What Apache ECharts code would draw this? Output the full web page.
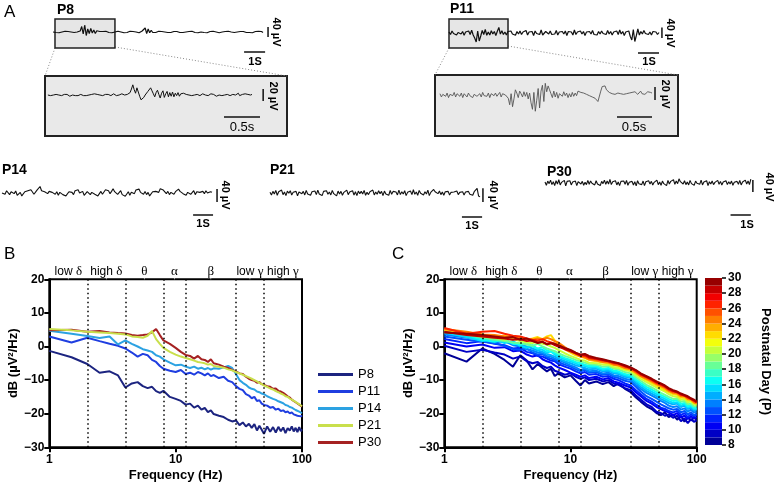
<!DOCTYPE html>
<html><head><meta charset="utf-8">
<script src="https://cdn.jsdelivr.net/npm/echarts/dist/echarts.min.js"></script>
<style>html,body{margin:0;padding:0;background:#fff}#c{width:777px;height:487px}</style>
</head><body><div id="c"></div><script>
// ---------------- DATA ----------------
// Panel A traces (µV), evenly sampled over each trace's duration
const traceP8 = [0,3,-2,2,-3,2,0,-2,3,-2,2,-3,0,2,-2,3,0,-2,
 4,22,-8,28,-14,12,-6,14,-4,8,-6,5,
 -2,2,-3,2,-2,3,0,-2,2,-3,2,0,-2,3,-2,0,2,-3,2,-2,0,3,-2,2,-2,0,3,-3,2,4,
 8,16,-6,12,-3,7,-2,3,
 -2,0,3,-2,2,-3,0,2,-2,3,-2,0,2,-3,2,0,-2,3,-2,2,0,-3,2,-2,3,0,-2,2,-3,2,0,3,-2,2,-3,0,2,-2,3,-2,0,2,-3,3,0,-2,2,-2,3,-3,0,2,-2,3,0,-2,2,-3,2,0,-2,3,-2,2,-3,0,2,-2,3,0,2,-2];
const traceP8Zoom = [0,1,-1,1,0,-1,1,-1,0,2,-1,0,1,-1,1,0,-2,1,0,1,-1,1,-1,0,1,2,-1,0,-1,1,0,-1,1,0,2,-1,1,-1,0,1,-1,0,1,-2,1,0,-1,1,2,0,-1,1,0,-1,2,1,0,-1,1,2,
 4,10,17,9,3,12,5,-2,-8,-6,-4,0,3,6,9,12,7,2,-3,4,8,1,-5,3,7,-4,2,6,-3,4,-2,5,-3,3,-1,4,-2,2,-1,3,0,
 1,-1,0,1,-1,2,0,-1,1,0,-1,1,2,-1,0,1,-1,0,2,-1,1,0,-2,1,0,1,-1,2,0,-1,1,0,-1,2,1,-1,0,1,3,-1,0,1,-1,2,0,1,-1,0,1];
const traceP11 = [4,-6,8,-2,6,-8,2,10,-4,6,-9,4,-2,8,-6,11,-8,-20,-36,8,-32,-12,10,-6,14,-9,4,-8,9,-4,6,-10,7,22,-4,9,-6,4,-8,6,-2,8,-4,2,-9,6,-4,8,-6,4,-2,10,-8,4,-4,6,-10,8,-2,4,-6,12,-8,-14,6,10,-4,8,-6,2,-4,10,-8,4,-2,6,-4,8,-10,6,-2,4,-8,12,-6,4,-2,8,-4,6,-10,4,-2,6,-4,10,-6,2,-8,6,-4,8,-2,4,-6,10,-4,6,-8,4,-2,8,-6,12,-4,6,-10,4,-2,8,-14,-28,14,-34,-10,16,-8,6,-4,10,-2,6,-6,4,-8,6,-2,4,-6,2];
const traceP11Zoom = [2,-3,1,4,-2,3,-4,1,2,-1,4,-3,2,0,-2,3,-4,2,1,-3,3,-1,2,-4,1,3,-2,0,2,-3,4,-1,1,-2,3,-4,2,0,-1,3,-2,1,4,-3,2,-1,0,3,
 -5,-15,2,-18,-6, 8,3,-4,6, 2,-3,5,-2,4,-6,3,
 -12,-22,4,-25,-8,10,-20,6,15,-10,18,5,
 14,8,2,-4,6,-3,4,-5,2,
 3,-2,5,-1,3,-4,2,-3,4,-2,3,-1,
 6,9,4,7,3,5,1,
 2,-1,0,-3,-2,-5,-8,-10,-7,
 6,13,10,14,8,9,
 4,6,2,5,1,4,3,6,2,5,1,4,2,5,3,1,4,2,5,3,1,4,6,2,4,1,3,5,2,4,3];
const traceP14 = [0,5,-4,7,2,-5,4,9,-2,6,-7,-4,2,-9,-5,4,-2,7,4,10,5,-4,2,9,15,20,7,12,4,9,-2,5,10,2,7,-4,4,-7,2,5,-5,0,-9,-4,4,9,2,-5,7,4,10,0,-4,5,-7,-2,4,9,-5,2,7,-4,0,-9,-2,5,-4,2,10,4,7,-2,5,13,4,10,-4,2,7,-5,-2,-10,-4,4,-7,2,5,-2,9,4,12,2,7,-4,5,-5,2,-9,-4,4,10,5,9,2,13,18,9,4,-2,5,-5,2,7,-4,4,9,12,5,10,-2,4,-7,2,5,-4,0,7,-5,4,9,2,-4,5,-2,7,0,-5,4,2];
const traceP21 = [2,-6,5,-3,8,-7,4,-2,9,-5,3,-8,6,-1,7,-6,2,-4,5,-9,3,7,-2,5,-6,8,-3,1,-7,4,-2,6,-5,9,-3,2,-8,5,-1,7,-4,3,-6,8,-2,4,-9,6,-3,5,-7,2,-4,9,-5,3,-1,7,-6,4,-8,6,-2,5,-3,8,-7,2,-5,4,-1,9,-6,3,-4,7,-2,5,-8,6,-3,2,-7,8,-4,5,-1,3,-6,9,-5,4,-3,7,-8,2,-2,6,-5,10,-4,3,-7,8,-1,5,-6,4,-3,9,-8,2,6,11,4,8,-2,6,-5,3,-7,4,-2,5,-6,2,-4,3,-1,6,-5,2,-3,4,-6,3,-2,5,-4,1,-7,4,-2,14,-9,-12];
const traceP30 = [3,-7,6,-2,9,-5,4,-8,7,-3,10,-6,2,-4,8,-9,5,-1,7,-6,3,-2,6,-8,4,9,-3,5,-7,2,-5,8,-4,6,-1,3,-6,7,-3,2,-8,5,-2,9,-4,6,-3,11,-5,4,-2,7,-6,3,-8,5,-1,6,-4,8,-7,2,-3,5,-6,4,-9,7,-2,3,-5,6,-8,4,-1,7,-3,5,-6,2,-4,9,-5,3,-7,6,-2,4,-8,8,-3,5,-1,10,-4,6,-2,13,4,9,-3,7,-5,3,-6,8,-2,4,-7,6,-1,5,-4,9,-6,3,-2,7,-8,4,-3,6,-5,2,-1,8,-4,5,-6,3,-2,7,-5,4,-3,6,-7,2,-1,5,-4,8,-6,3,-2,9,-3,6,-5,12];

// Panel B spectra (dB) at frequencies freqB (Hz)
const freqB = [1,1.5,2,2.5,3,3.5,4,4.5,5,5.5,6,6.5,7,7.5,8,9,10,11,12,13,14,15,16,17,18,19,20,22,24,26,28,30,32,34,36,38,40,42,44,46,48,50,53,56,59,62,65,68,71,74,77,80,83,86,89,92,95,98,100];
const bP8  = [-1.3,-3.2,-5.2,-7.8,-7.4,-8.6,-12.2,-11.0,-10.6,-11.8,-12.4,-12.0,-13.3,-13.8,-13.2,-15.0,-15.6,-16.2,-17.3,-17.0,-18.2,-17.6,-18.8,-18.3,-19.5,-19.0,-20.1,-20.6,-21.0,-21.8,-22.3,-22.0,-23.4,-22.6,-23.8,-23.0,-24.2,-23.1,-25.0,-23.6,-24.8,-26.0,-23.8,-25.4,-24.0,-25.6,-23.9,-25.2,-24.1,-25.8,-24.3,-25.0,-23.8,-25.3,-24.2,-25.5,-24.0,-25.2,-24.6];
const bP11 = [3.0,1.2,2.6,1.6,0.8,0.2,-0.6,-1.8,-3.0,-2.2,-2.6,-4.0,-4.6,-5.8,-6.6,-7.2,-7.6,-7.0,-8.2,-7.8,-8.4,-7.6,-8.0,-8.6,-8.0,-8.8,-8.5,-9.4,-9.0,-10.2,-10.6,-11.8,-12.6,-13.0,-14.2,-14.6,-15.4,-15.0,-16.2,-16.0,-17.0,-17.4,-17.6,-18.2,-18.0,-18.8,-18.5,-19.2,-19.0,-19.6,-19.3,-19.9,-19.6,-20.2,-20.0,-20.6,-20.2,-20.8,-20.5];
const bP14 = [4.7,3.8,3.1,2.5,3.0,0.6,1.8,0.8,0.0,-0.8,-1.2,-1.6,-2.6,-3.0,-3.8,-4.8,-5.6,-5.4,-6.0,-6.4,-6.0,-6.6,-6.3,-6.8,-6.4,-6.9,-6.5,-6.6,-6.2,-5.8,-6.4,-8.2,-10.0,-10.8,-11.4,-12.2,-12.6,-12.8,-13.4,-13.6,-14.0,-14.2,-14.8,-15.2,-15.6,-15.9,-16.3,-16.6,-16.9,-17.4,-17.6,-18.0,-18.2,-18.6,-18.9,-19.2,-19.4,-19.7,-19.8];
const bP21 = [5.2,4.8,4.4,4.2,4.0,3.8,3.6,3.0,2.8,2.6,3.2,4.6,2.2,0.8,-0.4,-1.6,-2.4,-3.0,-3.4,-3.8,-4.2,-4.6,-4.8,-5.0,-5.4,-5.2,-5.8,-6.0,-6.3,-6.8,-7.1,-7.6,-8.0,-8.4,-8.8,-9.2,-9.6,-10.0,-10.4,-10.8,-11.2,-11.6,-12.0,-12.5,-12.8,-13.3,-13.6,-14.0,-14.3,-14.8,-15.0,-15.5,-15.8,-16.2,-16.5,-16.9,-17.2,-17.6,-17.8];
const bP30 = [4.8,5.0,4.4,4.6,4.2,4.0,3.9,3.4,3.2,3.4,3.6,4.2,5.2,3.4,1.8,0.8,-0.4,-1.6,-2.5,-2.8,-3.6,-2.8,-3.8,-4.0,-4.6,-3.8,-5.0,-5.4,-6.0,-6.4,-7.0,-7.4,-8.0,-8.2,-9.0,-9.6,-10.0,-10.2,-10.8,-10.6,-11.2,-11.4,-11.8,-12.0,-12.6,-12.5,-13.2,-13.4,-13.8,-14.3,-14.8,-15.2,-15.8,-16.2,-16.6,-17.0,-17.3,-17.6,-17.9];
const bNames = ['P8','P11','P14','P21','P30'];

// Panel C spectra (dB) per postnatal day at frequencies freqC (Hz)
const freqC = [1,1.5,2,2.5,3,3.5,4,4.5,5,5.5,6,6.5,7,7.5,8,9,10,11,12,13,14,16,18,20,22,24,27,30,33,36,40,44,48,52,56,60,65,70,75,80,85,90,95,100];
const cDays = [8,9,10,11,12,13,14,15,16,18,20,22,24,26,28,30];
const c08 = [-2.0,-4.5,-0.6,-2.2,-4.0,-6.0,-2.6,-4.2,-6.8,-5.2,-6.4,-7.4,-6.6,-8.8,-8.0, -9.2,-8.6,-10.2,-11.6,-10.0,-11.0, -10.4,-11.2,-10.6,-11.8,-11.0, -12.6,-13.6,-15.2,-16.4, -17.8,-18.6,-19.8,-20.4,-19.6,-21.0, -20.2,-21.8,-20.6,-22.4,-21.0,-22.0,-21.2,-21.8];
const c09 = [0.2,-1.6,-1.0,-1.8,-2.4,-3.6,-3.0,-4.4,-5.0,-4.6,-5.8,-6.4,-6.0,-7.2,-7.6, -8.4,-8.0,-9.0,-9.6,-9.2,-10.0, -9.6,-10.4,-10.0,-11.0,-11.4, -12.4,-13.0,-14.6,-15.8, -17.2,-18.0,-19.4,-19.8,-20.6,-20.2, -21.2,-20.6,-22.2,-21.4,-22.8,-21.6,-22.4,-22.0];
const c10 = [1.2,0.0,0.6,-0.4,-0.2,-1.4,-1.2,-2.4,-3.0,-2.6,-3.8,-4.4,-4.8,-5.6,-6.2, -7.0,-7.8,-8.4,-9.0,-8.6,-9.4, -9.0,-9.8,-9.4,-10.4,-10.8, -11.6,-12.2,-13.6,-14.8, -16.2,-17.0,-18.0,-18.6,-19.2,-19.6, -20.4,-19.8,-21.2,-20.6,-21.6,-20.8,-21.4,-21.0];
const c11 = [2.2,1.0,1.6,0.8,0.4,-0.6,-0.4,-1.6,-2.0,-2.8,-3.0,-3.6,-4.2,-4.4,-5.2, -6.0,-6.6,-7.4,-8.0,-7.6,-8.4, -8.2,-9.0,-8.8,-9.6,-10.0, -11.0,-11.6,-13.0,-14.2, -15.6,-16.4,-17.4,-18.2,-18.6,-19.2, -19.6,-19.2,-20.4,-19.8,-21.0,-20.2,-20.8,-20.4];
const c12 = [3.0,2.0,1.4,1.0,0.2,-0.8,-1.0,-0.6,-1.8,-2.4,-2.2,-3.2,-3.6,-4.0,-4.6, -5.4,-6.0,-6.8,-7.4,-7.0,-7.8, -7.6,-8.4,-8.2,-9.0,-9.4, -10.2,-10.6,-12.0,-13.4, -14.8,-15.6,-16.4,-17.2,-17.8,-18.4, -18.8,-18.6,-19.6,-19.2,-20.2,-19.6,-20.4,-20.0];
const c13 = [3.6,2.6,2.0,1.2,1.6,0.4,0.0,-0.8,-1.2,-1.8,-2.0,-2.8,-3.0,-3.6,-4.0, -4.8,-5.6,-6.2,-7.0,-6.6,-7.4, -7.2,-8.0,-7.8,-8.6,-8.8, -9.6,-10.0,-11.4,-12.6, -13.8,-14.6,-15.4,-16.2,-16.8,-17.6, -18.0,-17.8,-18.8,-18.4,-19.4,-18.8,-19.6,-19.4];
const c14 = [4.0,3.0,2.4,2.0,1.4,1.0,0.6,0.0,-0.6,-1.2,-1.6,-2.2,-2.6,-3.0,-3.6, -4.4,-5.0,-5.6,-6.0,-6.4,-6.8, -6.6,-7.4,-7.2,-8.0,-8.2, -9.0,-9.4,-10.8,-12.0, -13.2,-14.0,-14.8,-15.6,-16.2,-16.8, -17.2,-17.0,-18.0,-17.6,-18.6,-18.2,-19.0,-18.8];
const c15 = [4.2,2.8,1.6,2.2,1.0,1.6,0.2,-0.4,0.4,-0.8,-1.0,-1.8,-1.4,-2.4,-3.0, -3.8,-4.4,-5.0,-5.6,-5.8,-6.2, -6.2,-7.0,-6.8,-7.6,-7.8, -8.6,-9.0,-10.2,-11.4, -12.6,-13.4,-14.2,-15.0,-15.6,-16.2, -16.8,-16.6,-17.6,-17.2,-18.2,-17.8,-18.6,-18.6];
const c16 = [4.5,3.4,2.0,1.4,2.2,0.8,0.6,1.2,0.0,-0.6,-0.2,-1.2,-1.6,-2.0,-2.6, -3.4,-4.0,-4.6,-5.0,-5.4,-5.8, -5.8,-6.6,-6.4,-7.2,-7.4, -8.2,-8.6,-9.8,-10.8, -12.0,-12.8,-13.6,-14.4,-15.0,-15.6, -16.2,-16.0,-17.0,-16.8,-17.8,-17.4,-18.2,-18.2];
const c18 = [4.8,3.6,2.6,2.0,1.6,1.2,1.0,0.6,0.2,0.8,0.0,-0.6,-1.0,-1.4,-2.0, -2.8,-3.4,-4.0,-4.4,-4.8,-5.2, -5.4,-6.0,-5.8,-6.6,-6.8, -7.6,-8.0,-9.2,-10.2, -11.4,-12.2,-13.0,-13.8,-14.4,-15.0, -15.6,-15.6,-16.4,-16.2,-17.2,-17.0,-17.8,-17.8];
const c20 = [5.0,4.0,3.0,2.6,2.0,2.2,1.6,1.2,1.0,1.4,0.8,0.6,0.0,-0.4,-1.0, -2.0,-2.8,-3.4,-4.0,-4.2,-4.8, -5.0,-5.4,-5.4,-6.2,-6.4, -7.0,-7.4,-8.6,-9.6, -10.6,-11.4,-12.2,-12.8,-13.4,-14.2, -14.8,-15.0,-15.8,-15.6,-16.6,-16.4,-17.2,-17.4];
const c22 = [5.0,4.2,3.6,3.0,3.2,2.6,2.4,2.0,2.4,2.8,2.2,3.0,3.4,1.8,0.6, -0.8,-1.8,-2.6,-3.0,-3.4,-4.0, -4.4,-4.8,-5.0,-5.6,-5.8, -6.6,-7.0,-8.0,-9.0, -10.0,-10.8,-11.6,-12.2,-13.0,-13.6, -14.2,-14.4,-15.2,-15.2,-16.0,-16.0,-16.8,-17.0];
const c24 = [5.2,4.4,3.6,3.4,3.0,2.8,2.6,2.2,2.0,2.4,2.0,2.6,2.2,1.6,1.2, -0.2,-1.4,-2.2,-3.0,-3.2,-3.8, -4.2,-4.6,-4.8,-5.4,-5.6, -6.4,-6.8,-7.8,-8.8, -9.6,-10.4,-11.2,-11.8,-12.4,-13.2, -13.8,-14.0,-14.8,-14.8,-15.6,-15.8,-16.6,-17.0];
const c26 = [5.5,3.8,4.4,4.6,3.8,3.2,3.0,2.4,2.0,1.8,2.2,1.6,1.2,0.8,0.4, -0.6,-1.2,-2.0,-2.6,-2.8,-3.4, -3.8,-4.2,-4.4,-5.0,-5.2, -6.0,-6.4,-7.4,-8.4, -9.2,-10.0,-10.8,-11.4,-12.0,-12.8, -13.4,-13.6,-14.4,-14.6,-15.2,-15.6,-16.2,-16.6];
const c28 = [4.4,3.4,3.0,2.6,2.4,2.0,2.2,1.6,1.8,1.2,1.4,0.8,1.0,0.4,0.0, -0.8,-1.4,-2.0,-2.6,-2.4,-3.2, -3.6,-4.0,-4.4,-4.8,-5.0, -5.8,-6.4,-7.2,-8.2, -9.0,-9.8,-10.6,-11.2,-11.8,-12.6, -13.2,-13.6,-14.2,-14.6,-15.0,-15.6,-16.0,-16.6];
const c30 = [4.2,3.8,3.4,3.0,2.6,2.8,2.0,2.4,1.6,1.0,1.4,0.6,1.0,0.8,0.4, -0.4,-1.0,-1.8,-2.4,-2.2,-2.8, -3.4,-3.8,-4.2,-4.6,-5.0, -5.6,-6.2,-7.0,-8.0, -8.8,-9.6,-10.4,-11.0,-11.6,-12.4, -13.0,-13.4,-14.0,-14.4,-14.8,-15.4,-15.8,-16.4];
const cVals = [c08,c09,c10,c11,c12,c13,c14,c15,c16,c18,c20,c22,c24,c26,c28,c30];

// Frequency bands
const bandEdges = [1,2,4,8,12,30,50,100];
const bandNames = ['low δ','high δ','θ','α','β','low γ','high γ'];
const minorTicks = [2,3,4,5,6,7,8,9,20,30,40,50,60,70,80,90];
const dayMin = 8, dayMax = 30;

// ---------------- STYLE / LAYOUT ----------------
const FF = "'Liberation Sans', Arial, sans-serif";
const SERIF = "'Liberation Serif', 'DejaVu Serif', serif";
const bColors = ['#1c2480','#1f3ee0','#2ca2e2','#c9df4c','#a52222'];
function jet(t){
  const c = x => Math.round(255*Math.max(0,Math.min(1,x)));
  return 'rgb(' + c(Math.min(4*t-1.5,-4*t+4.5)) + ',' + c(Math.min(4*t-0.5,-4*t+3.5)) + ',' + c(Math.min(4*t+0.5,-4*t+2.5)) + ')';
}
const nPieces = dayMax - dayMin;
function dayColor(d){ const i = Math.min(nPieces-1, d - dayMin); return jet((i+0.5)/nPieces); }

const grids = [], xAxes = [], yAxes = [], series = [];
function addGrid(g){ grids.push(g); return grids.length-1; }

// trace panels
const PX_S = 21;
const traces = [
  {vals:traceP8, grid:{left:53,top:12,width:240,height:40}, xr:[0,240/PX_S], yr:[-80,80], t:[0,10], hbar:[9.1,10.1,-80], vbar:[10.24,20,-20], box:[0.095,2.95,52,-64], color:'#111', w:1.2},
  {vals:traceP8Zoom, grid:{left:45,top:76,width:242,height:60,show:true,backgroundColor:'#e9e9e9',borderColor:'#222',borderWidth:2}, xr:[0,242/72], yr:[-68.3,31.7], t:[0.04,2.875], hbar:[2.486,2.986,-36.7], vbar:[3.03,10,-10], color:'#111', w:1},
  {vals:traceP11, grid:{left:449,top:13,width:240,height:40}, xr:[0,240/PX_S], yr:[-80,80], t:[0,10], hbar:[9.0,10.0,-80], vbar:[10.14,22,-20], box:[0,2.81,56,-60], color:'#111', w:1.2},
  {vals:traceP11Zoom, grid:{left:435,top:75,width:243,height:61,show:true,backgroundColor:'#e9e9e9',borderColor:'#222',borderWidth:2}, xr:[0,243/70], yr:[-63.1,30.8], t:[0.071,3.1], hbar:[2.6,3.1,-33.9], vbar:[3.143,12.3,-7.7], color:'#555', w:0.9},
  {vals:traceP14, grid:{left:2,top:173,width:240,height:44}, xr:[0,240/PX_S], yr:[-73.9,61.6], t:[0,10], hbar:[9.1,10.05,-67.8], vbar:[10.24,12,-28], color:'#111', w:1.1},
  {vals:traceP21, grid:{left:270,top:173,width:240,height:44}, xr:[0,240/PX_S], yr:[-73.9,61.6], t:[0,10], hbar:[9.14,10.1,-73.9], vbar:[10.14,15,-28], color:'#111', w:1.1},
  {vals:traceP30, grid:{left:545,top:163,width:240,height:56}, xr:[0,240/PX_S], yr:[-110.9,61.6], t:[0,10.14], hbar:[9.14,10.14,-98.6], vbar:[10.24,9,-28], color:'#111', w:1.1}
];
traces.forEach(tr => {
  const gi = addGrid(tr.grid);
  xAxes.push({type:'value', gridIndex:gi, min:tr.xr[0], max:tr.xr[1], show:false});
  yAxes.push({type:'value', gridIndex:gi, min:tr.yr[0], max:tr.yr[1], show:false});
  const n = tr.vals.length;
  const base = {type:'line', xAxisIndex:gi, yAxisIndex:gi, showSymbol:false, symbol:'none', clip:false, silent:true, animation:false};
  const hb = Object.assign({}, base, {z:2, data:[[tr.hbar[0],tr.hbar[2]],[tr.hbar[1],tr.hbar[2]]], lineStyle:{color:'#111',width:1.5}});
  if (tr.box) hb.markArea = {silent:true, itemStyle:{color:'#e6e6e6', borderColor:'#222', borderWidth:1.5}, data:[[{coord:[tr.box[0],tr.box[2]]},{coord:[tr.box[1],tr.box[3]]}]]};
  series.push(hb);
  series.push(Object.assign({}, base, {z:2, data:[[tr.vbar[0],tr.vbar[1]],[tr.vbar[0],tr.vbar[2]]], lineStyle:{color:'#111',width:1.5}}));
  series.push(Object.assign({}, base, {z:5, data:tr.vals.map((v,i)=>[tr.t[0]+(tr.t[1]-tr.t[0])*i/(n-1), v]), lineStyle:{color:tr.color,width:tr.w}}));
});

// spectral panels
const minus = v => v < 0 ? '\u2212' + (-v) : String(v);
function specAxes(gi){
  xAxes.push({type:'log', logBase:10, gridIndex:gi, min:1, max:100,
    axisLine:{onZero:false, lineStyle:{color:'#000',width:2}}, axisTick:{length:5,lineStyle:{color:'#000',width:2}},
    axisLabel:{color:'#000',fontWeight:'bold',fontSize:12,fontFamily:FF,margin:6}, splitLine:{show:false},
    name:'Frequency (Hz)', nameLocation:'middle', nameGap:22, nameTextStyle:{color:'#000',fontWeight:'bold',fontSize:13,fontFamily:FF}});
  yAxes.push({type:'value', gridIndex:gi, min:-30, max:20, interval:10,
    axisLine:{show:true, onZero:false, lineStyle:{color:'#000',width:2}}, axisTick:{show:true,length:5,lineStyle:{color:'#000',width:2}},
    axisLabel:{color:'#000',fontWeight:'bold',fontSize:12,fontFamily:FF,formatter:minus,margin:5}, splitLine:{show:false},
    name:'dB (\u00b5V\u00b2/Hz)', nameLocation:'middle', nameGap:28, nameTextStyle:{color:'#000',fontWeight:'bold',fontSize:13,fontFamily:FF}});
}
function bandSeries(gi){
  const idx = xAxes.length-1;
  series.push({type:'line', xAxisIndex:idx, yAxisIndex:idx, data:[[1,-30]], symbol:'none', lineStyle:{opacity:0}, silent:true, clip:false, z:1,
    markLine:{silent:true, symbol:['none','none'], label:{show:false}, lineStyle:{type:[1.5,3],color:'#000',width:1.5},
      data: bandEdges.slice(1,-1).map(e=>({xAxis:e}))}});
  series.push({type:'line', xAxisIndex:idx, yAxisIndex:idx, data:[[1,-30]], symbol:'none', lineStyle:{opacity:0}, silent:true, clip:false, z:1,
    markLine:{silent:true, symbol:['none','none'], label:{show:false}, lineStyle:{type:'solid',color:'#000',width:1.5},
      data: minorTicks.map(f=>[{coord:[f,-30]},{coord:[f,-30.9]}])}});
  series.push({type:'scatter', xAxisIndex:idx, yAxisIndex:idx, clip:false, silent:true, symbolSize:1, itemStyle:{color:'#fff', opacity:1},
    data: bandNames.map((nm,i)=>({name:nm, value:[Math.sqrt(bandEdges[i]*bandEdges[i+1]), 20.2]})),
    label:{show:true, position:'top', distance:0, color:'#000', opacity:1, textBorderWidth:0, fontSize:12, fontFamily:FF,
      formatter: p => p.name.replace(/([δθαβγ])/g, '{g|$1}'),
      rich:{g:{fontFamily:SERIF, fontSize:13, color:'#000'}}}});
}
const gB = addGrid({left:49.3, top:279.3, width:252.7, height:168, show:true, borderColor:'#000', borderWidth:2});
specAxes(gB); bandSeries(gB);
const bIdx = xAxes.length-1;
const bData = [bP8,bP11,bP14,bP21,bP30];
[0,1,2,4,3].forEach(k => {
  series.push({type:'line', name:bNames[k], xAxisIndex:bIdx, yAxisIndex:bIdx, data:freqB.map((f,i)=>[f,bData[k][i]]),
    symbol:'none', showSymbol:false, lineStyle:{color:bColors[k],width:2}, itemStyle:{color:bColors[k]}, z:3, animation:false});
});
const gC = addGrid({left:444.3, top:279.3, width:252.4, height:168, show:true, borderColor:'#000', borderWidth:2});
specAxes(gC); bandSeries(gC);
const cIdx = xAxes.length-1;
cDays.forEach((d,k) => {
  const col = dayColor(d);
  series.push({type:'line', name:'C-P'+d, xAxisIndex:cIdx, yAxisIndex:cIdx, data:freqC.map((f,i)=>[f,cVals[k][i]]),
    symbol:'none', showSymbol:false, lineStyle:{color:col,width:2}, itemStyle:{color:col}, z:3, animation:false});
});

// colour bar
const gCB = addGrid({left:705, top:278, width:17, height:167});
xAxes.push({type:'category', gridIndex:gCB, data:['d'], show:false});
yAxes.push({type:'value', gridIndex:gCB, min:dayMin, max:dayMax, interval:2, position:'right',
  axisLine:{show:false}, axisTick:{show:true,length:4,lineStyle:{color:'#000',width:1.5}}, splitLine:{show:false},
  axisLabel:{color:'#000',fontWeight:'bold',fontSize:12,fontFamily:FF,margin:6},
  name:'Postnatal Day (P)', nameLocation:'middle', nameRotate:-90, nameGap:37, nameTextStyle:{color:'#000',fontWeight:'bold',fontSize:13,fontFamily:FF}});
const cbIdx = xAxes.length-1;
series.push({type:'bar', xAxisIndex:cbIdx, yAxisIndex:cbIdx, stack:'cb', data:[dayMin], barWidth:'100%', itemStyle:{color:'rgba(0,0,0,0)'}, silent:true});
for (let i=0;i<nPieces;i++){
  series.push({type:'bar', xAxisIndex:cbIdx, yAxisIndex:cbIdx, stack:'cb', data:[1], barWidth:'100%', itemStyle:{color:jet((i+0.5)/nPieces)}, silent:true});
}

// annotations
const txt = (text,x,y,font,extra) => Object.assign({type:'text', x, y, silent:true, style:{text, font, fill:'#000', align:'left', verticalAlign:'middle'}}, extra||{});
const rot = (text,x,y,font) => ({type:'text', x, y, rotation:-Math.PI/2, silent:true, style:{text, font, fill:'#000', align:'center', verticalAlign:'middle'}});
const ctr = (text,x,y,font) => ({type:'text', x, y, silent:true, style:{text, font, fill:'#000', align:'center', verticalAlign:'middle'}});
const dot = (x1,y1,x2,y2) => ({type:'line', silent:true, shape:{x1,y1,x2,y2}, style:{stroke:'#8a8a8a', lineWidth:1, lineDash:[1,2]}});
const B14 = 'bold 14px ' + FF, B11 = 'bold 11px ' + FF, N13 = '13px ' + FF;
const graphic = [
  txt('A',4,12,'17px '+FF), txt('B',4,254,'17px '+FF), txt('C',392,254,'17px '+FF),
  txt('P8',57,10,B14), txt('P11',450,9,B14), txt('P14',2,170,B14), txt('P21',270,170,B14), txt('P30',547,172,B14),
  ctr('1S',255,62,B11), rot('40 \u00b5V',276,32,B11),
  ctr('0.5s',242,127,N13), rot('20 \u00b5V',273,96,B11),
  ctr('1S',649,62,B11), rot('40 \u00b5V',670,33,B11),
  ctr('0.5s',634,127,N13), rot('20 \u00b5V',665,94,B11),
  ctr('1S',203,224,B11), rot('40 \u00b5V',225,195,B11),
  ctr('1S',472,226,B11), rot('40 \u00b5V',493,195,B11),
  ctr('1S',747,225,B11), rot('40 \u00b5V',769,187,B11),
  dot(55,48,45,76), dot(115,47,287,76), dot(449,48,435,75), dot(508,46,678,75)
];

const chart = echarts.init(document.getElementById('c'), null, {renderer:'canvas'});
chart.setOption({
  animation:false, backgroundColor:'#fff',
  textStyle:{fontFamily:FF},
  grid:grids, xAxis:xAxes, yAxis:yAxes, series,
  legend:{data:bNames, orient:'vertical', left:313, top:363, itemWidth:35, itemHeight:3, icon:'rect', itemGap:4,
    textStyle:{fontSize:13, color:'#000', fontFamily:FF}, selectedMode:false},
  graphic
});
</script></body></html>
